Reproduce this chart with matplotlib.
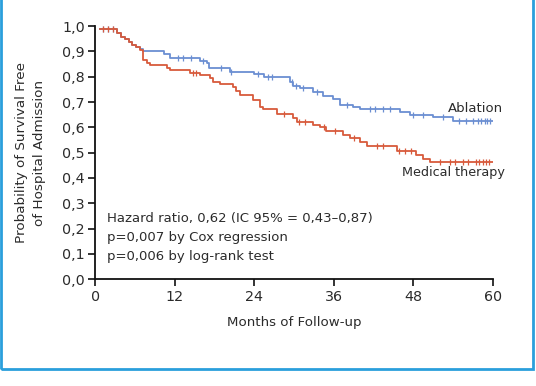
import numpy as np
import matplotlib
matplotlib.use("Agg")
import matplotlib.pyplot as plt
from matplotlib.patches import Rectangle

# Step curves (time in months, survival probability)
abl_t = [0.7, 3.2, 3.8, 4.4, 5.0, 5.6, 6.2, 6.8, 7.25, 10.3, 11.3, 15.8, 16.8, 17.1, 20.3, 23.9, 25.4,
         29.4, 29.9, 30.9, 32.9, 34.4, 35.9, 37.0, 38.9, 40.0, 46.0, 47.5, 51.0, 54.0]
abl_s = [0.987, 0.972, 0.958, 0.947, 0.937, 0.927, 0.917, 0.908, 0.900, 0.890, 0.872, 0.862, 0.853, 0.835,
         0.820, 0.810, 0.797, 0.780, 0.763, 0.754, 0.740, 0.724, 0.712, 0.690, 0.680, 0.671, 0.660, 0.649,
         0.639, 0.626]

med_t = [0.7, 3.2, 3.8, 4.4, 5.0, 5.6, 6.2, 6.8, 7.25, 7.75, 8.25, 10.8, 11.3, 14.3, 15.8, 17.3, 17.8, 18.8,
         20.8, 21.3, 21.8, 23.85, 24.86, 25.36, 27.4, 29.9, 30.4, 32.9, 33.9, 34.9, 37.4, 38.45, 40.0,
         40.97, 45.5, 48.5, 49.5, 50.5]
med_s = [0.987, 0.972, 0.958, 0.947, 0.937, 0.927, 0.917, 0.905, 0.866, 0.853, 0.846, 0.835, 0.826, 0.816,
         0.807, 0.795, 0.780, 0.772, 0.758, 0.745, 0.728, 0.708, 0.679, 0.671, 0.651, 0.636, 0.622, 0.609,
         0.600, 0.587, 0.570, 0.557, 0.543, 0.526, 0.508, 0.490, 0.474, 0.462]

abl_cens = [1.2, 1.9, 2.6, 12.5, 13.3, 14.5, 16.2, 19.0, 20.5, 24.5, 26.0, 26.7, 29.7, 30.3, 31.3, 33.5,
            38.0, 41.5, 42.3, 43.5, 44.5, 48.0, 49.5, 52.5, 55.0, 56.0, 57.0, 57.8, 58.3, 58.8, 59.2, 59.6]
med_cens = [1.2, 1.9, 2.6, 14.7, 15.2, 28.5, 30.8, 31.6, 34.5, 36.2, 39.0, 42.5, 43.5, 45.8, 46.8, 47.6,
            52.0, 53.5, 54.3, 55.5, 56.3, 57.5, 58.0, 58.5, 59.0, 59.5]

x_ticks = [0, 12, 24, 36, 48, 60]
y_ticks = [0.0, 0.1, 0.2, 0.3, 0.4, 0.5, 0.6, 0.7, 0.8, 0.9, 1.0]
y_tick_labels = ["0,0", "0,1", "0,2", "0,3", "0,4", "0,5", "0,6", "0,7", "0,8", "0,9", "1,0"]
stats_text = ["Hazard ratio, 0,62 (IC 95% = 0,43\u20130,87)",
              "p=0,007 by Cox regression",
              "p=0,006 by log-rank test"]

BLUE = "#6b8fd2"
RED = "#d85a3c"
FRAME = "#2a9fdc"
TXT = "#2b2b2b"

plt.rcParams['font.family'] = ['DejaVu Sans']

fig = plt.figure(figsize=(5.36, 3.86), dpi=100)
ax = fig.add_axes([0.178, 0.2764, 0.741, 0.6562])


def step_vals(t, s, pts):
    idx = np.searchsorted(np.asarray(t), np.asarray(pts), side='right') - 1
    return np.asarray(s)[idx]


for t, s, c, cens in [(abl_t, abl_s, BLUE, abl_cens), (med_t, med_s, RED, med_cens)]:
    tt = list(t) + [60]
    ss = list(s) + [s[-1]]
    ax.step(tt, ss, where='post', color=c, lw=1.3, zorder=3)
    ax.plot(cens, step_vals(t, s, cens), linestyle='none', marker='|', ms=4.5, mew=0.9, color=c, zorder=3)

ax.set_xlim(0, 60)
ax.set_ylim(0, 1.0)
ax.set_xticks(x_ticks)
ax.set_xticklabels([str(v) for v in x_ticks])
ax.set_yticks(y_ticks)
ax.set_yticklabels(y_tick_labels)
for sp in ['top', 'right']:
    ax.spines[sp].set_visible(False)
for sp in ['left', 'bottom']:
    ax.spines[sp].set_linewidth(1.3)
    ax.spines[sp].set_color('#111111')
ax.tick_params(axis='both', direction='out', length=5, width=1.2, color='#111111',
               labelsize=10.3, labelcolor=TXT, pad=2.5)

ax.set_xlabel("Months of Follow-up", fontsize=9.6, color=TXT, labelpad=9)
ax.set_ylabel("Probability of Survival Free\nof Hospital Admission", fontsize=9.7, color=TXT,
              labelpad=12, linespacing=1.45)

ax.text(61.6, abl_s[-1] + 0.05, "Ablation", fontsize=9.5, color=TXT, ha='right', va='center',
        clip_on=False)
ax.text(61.9, med_s[-1] - 0.042, "Medical therapy", fontsize=9.2, color=TXT, ha='right', va='center',
        clip_on=False)

for i, line in enumerate(stats_text):
    ax.text(1.8, 0.241 - i * 0.075, line, fontsize=9.5, color=TXT, ha='left', va='center')

# light blue frame (left, right, bottom)
fig.patches.append(Rectangle((1 / 536, 1 - 369 / 386), 532 / 536, 369 / 386 + 0.05,
                             transform=fig.transFigure, fill=False, ec=FRAME, lw=2, clip_on=False))

fig.savefig("out.png", dpi=100)
